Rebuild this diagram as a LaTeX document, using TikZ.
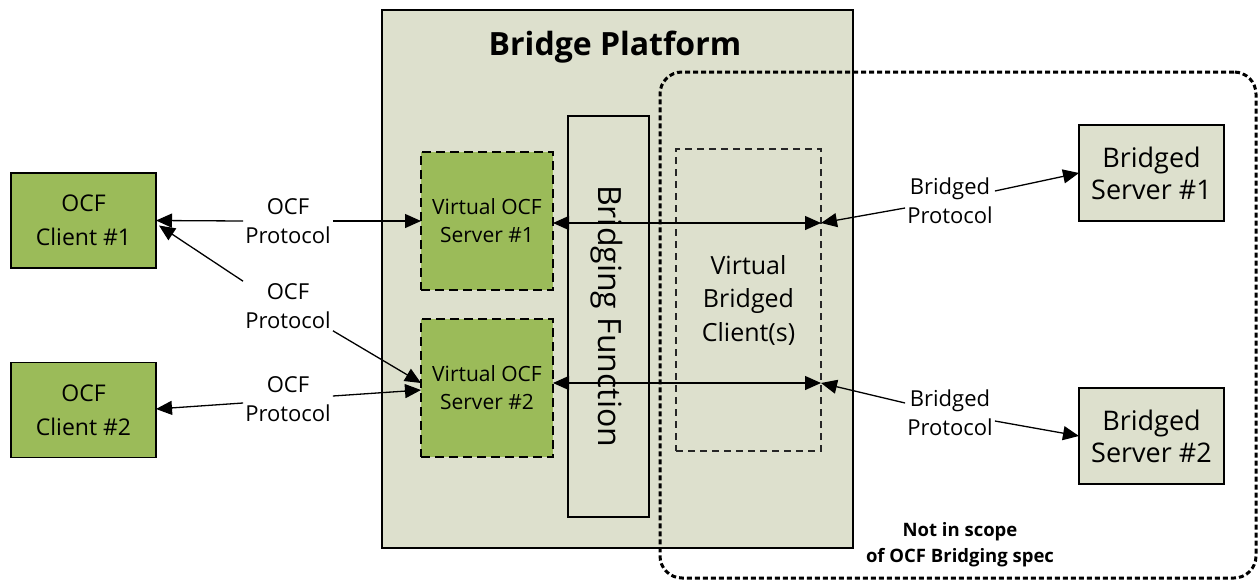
\documentclass[tikz,border=0pt]{standalone}
\usepackage{fontspec}
\setmainfont{Open Sans}
\usetikzlibrary{arrows.meta,calc}
\definecolor{ocfgreen}{RGB}{155,187,89}
\definecolor{platfill}{RGB}{221,224,205}
\begin{document}
\begin{tikzpicture}[x=1pt,y=-1pt,
  box/.style={draw=black, line width=1.2pt, inner sep=0pt, outer sep=0pt, align=center},
  greenbox/.style={box, fill=ocfgreen},
  lightbox/.style={box, fill=platfill},
  virtbox/.style={greenbox, dash pattern=on 9pt off 5pt},
  lbl/.style={align=center, inner sep=2pt, font=\fontsize{22}{29}\selectfont},
  tip/.style={Triangle[length=16pt,width=14pt]},
  arr/.style={line width=1.3pt, -{Triangle[length=16pt,width=14pt]}},
  darr/.style={line width=1.3pt, {Triangle[length=16pt,width=14pt]}-{Triangle[length=16pt,width=14pt]}},
]
\useasboundingbox (0,0) rectangle (1259,581);
\fill[white] (0,0) rectangle (1259,581);

% platform
\node[lightbox, minimum width=471, minimum height=538] (bp) at (617.5,279) {};
\node[anchor=base, inner sep=0, font=\bfseries\fontsize{32}{38}\selectfont] (title) at (615,55) {Bridge Platform};

% out-of-scope region
\node[draw, line width=3pt, dash pattern=on 5pt off 3pt, rounded corners=22pt,
      minimum width=596, minimum height=506, inner sep=0] (scope) at (958,325) {};

% bridging function
\node[lightbox, minimum width=81, minimum height=401] (bf) at (608.5,316.5) {};
\node[rotate=-90, anchor=base west, inner sep=0, font=\fontsize{32}{38}\selectfont] (bft) at (598,185) {Bridging Function};

% virtual bridged client
\node[box, draw=black!85, line width=1.3pt, dash pattern=on 7pt off 5pt,
      minimum width=145, minimum height=302, font=\fontsize{25}{33.5}\selectfont] (vbc) at (748.5,300) {Virtual\\Bridged\\Client(s)};

% virtual OCF servers
\node[virtbox, minimum width=132, minimum height=138, font=\fontsize{21}{28}\selectfont] (vs1) at (487,221) {Virtual OCF\\Server \#1};
\node[virtbox, minimum width=132, minimum height=138, font=\fontsize{21}{28}\selectfont] (vs2) at (487,388) {Virtual OCF\\Server \#2};

% OCF clients
\node[greenbox, minimum width=145, minimum height=95, font=\fontsize{23}{34}\selectfont] (c1) at (83.5,220.5) {OCF\\Client \#1};
\node[greenbox, minimum width=145, minimum height=95, font=\fontsize{23}{34}\selectfont] (c2) at (83.5,410) {OCF\\Client \#2};

% bridged servers
\node[lightbox, minimum width=145, minimum height=96, font=\fontsize{27}{32}\selectfont] (bs1) at (1151.5,173) {Bridged\\Server \#1};
\node[lightbox, minimum width=145, minimum height=96, font=\fontsize{27}{32}\selectfont] (bs2) at (1151.5,436) {Bridged\\Server \#2};

% labels
\node[lbl] (l1) at (288,221) {OCF\\Protocol};
\node[lbl] (l2) at (288,306) {OCF\\Protocol};
\node[lbl] (l3) at (288,399) {OCF\\Protocol};
\node[lbl] (bl1) at (950,201) {Bridged\\Protocol};
\node[lbl] (bl2) at (950,413) {Bridged\\Protocol};
\node[align=center, inner sep=0, font=\bfseries\fontsize{18.5}{26}\selectfont] (nis) at (960,545) {Not in scope\\of OCF Bridging spec};

% helper coordinates
\coordinate (a1) at ($(vs1.east)+(0,2)$);
\coordinate (b1) at (a1 -| vbc.east);
\coordinate (a2) at ($(vs2.east)+(0,-5)$);
\coordinate (b2) at (a2 -| vbc.east);

% connectors
\draw[arr] (l1.west) -- (c1.east);
\draw[arr] (l1.east) -- (vs1.west);
\draw[arr] (l2.north west) -- ($(c1.east)+(3,5)$);
\draw[arr] (l2.south east) -- ($(vs2.west)+(0,-5)$);
\draw[arr] ($(l3.west)+(0,4)$) -- ($(c2.east)+(0,-1)$);
\draw[arr] ($(l3.east)+(0,-3)$) -- ($(vs2.west)+(0,2)$);
\draw[darr] (a1) -- (b1);
\draw[darr] (a2) -- (b2);
\draw[arr] ($(bl1.east)+(0,-10)$) -- (bs1.west);
\draw[arr] ($(bl1.west)+(0,7)$) -- (b1);
\draw[arr] ($(bl2.west)+(0,-10)$) -- (b2);
\draw[arr] ($(bl2.east)+(0,8)$) -- (bs2.west);
\end{tikzpicture}
\end{document}
